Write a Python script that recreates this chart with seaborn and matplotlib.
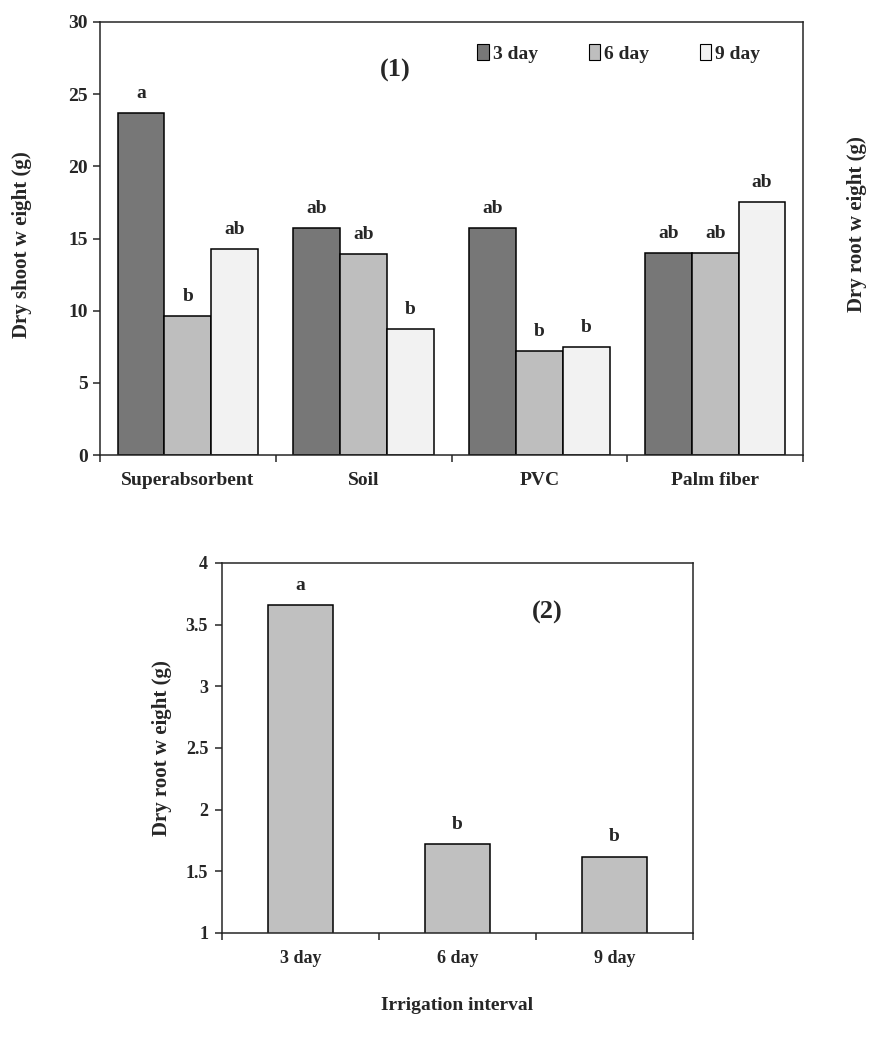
import pandas as pd
import numpy as np
import matplotlib
matplotlib.use('Agg')
import matplotlib.pyplot as plt
from matplotlib.patches import Patch
from matplotlib.ticker import FormatStrFormatter, FixedLocator
import seaborn as sns

# === Data ===
media = ['Superabsorbent', 'Soil', 'PVC', 'Palm fiber']
intervals = ['3 day', '6 day', '9 day']
shoot_3day = [23.7, 15.7, 15.7, 14.0]
shoot_6day = [9.6, 13.9, 7.2, 14.0]
shoot_9day = [14.3, 8.7, 7.5, 17.5]
letters_3day = ['a', 'ab', 'ab', 'ab']
letters_6day = ['b', 'ab', 'b', 'ab']
letters_9day = ['ab', 'b', 'b', 'ab']
root_weight = [3.66, 1.72, 1.62]
root_letters = ['a', 'b', 'b']

shoot_df = pd.DataFrame({
    'medium': media * 3,
    'interval': ['3 day'] * 4 + ['6 day'] * 4 + ['9 day'] * 4,
    'weight': shoot_3day + shoot_6day + shoot_9day,
})
root_df = pd.DataFrame({'interval': intervals, 'weight': root_weight})

bar_colors = ['#777777', '#bebebe', '#f2f2f2']

# === Style ===
sns.set_style('ticks')
plt.rcParams['font.family'] = ['Liberation Serif', 'DejaVu Serif']
plt.rcParams['font.weight'] = 'bold'
plt.rcParams['axes.linewidth'] = 1.1

fig = plt.figure(figsize=(8.69, 10.37), dpi=100)
ax1 = fig.add_axes([0.1151, 0.5612, 0.809, 0.4176])
ax2 = fig.add_axes([0.2555, 0.1003, 0.542, 0.3568])

# === Plot 1: Dry shoot weight ===
sns.barplot(data=shoot_df, x='medium', y='weight', hue='interval',
            palette=bar_colors, edgecolor='black', linewidth=1.1,
            width=0.8, errorbar=None, legend=False, ax=ax1)
for cont, labs in zip(ax1.containers, [letters_3day, letters_6day, letters_9day]):
    ax1.bar_label(cont, labels=labs, padding=8, fontsize=14, fontweight='bold')

ax1.set_xlim(-0.5, 3.5)
ax1.set_ylim(0, 30)
ax1.set_yticks(range(0, 31, 5))
ax1.set_xlabel('')
ax1.set_ylabel('')
ax1.tick_params(axis='y', direction='out', length=5, width=1.1, labelsize=14, pad=4)
ax1.tick_params(axis='x', which='major', length=0, labelsize=14, pad=12)
ax1.xaxis.set_minor_locator(FixedLocator(np.arange(-0.5, 4, 1)))
ax1.tick_params(axis='x', which='minor', direction='out', length=5, width=1.1)
for s in ax1.spines.values():
    s.set_visible(True)
    s.set_linewidth(1.1)

handles = [Patch(facecolor=c, edgecolor='black', linewidth=0.8, label=l)
           for c, l in zip(bar_colors, intervals)]
ax1.legend(handles=handles, loc='center', bbox_to_anchor=(0.738, 0.928), ncol=3,
           frameon=False, handlelength=0.6, handleheight=0.9, handletextpad=0.2,
           columnspacing=2.6, prop={'size': 14, 'weight': 'bold'})
ax1.text(0.42, 0.889, '(1)', transform=ax1.transAxes, ha='center', va='center',
         fontsize=19, fontweight='bold')

fig.text(22 / 869, 1 - 245 / 1037, 'Dry shoot w eight (g)', rotation=90,
         ha='center', va='center', fontsize=15, fontweight='bold')
fig.text(857 / 869, 1 - 224 / 1037, 'Dry root w eight (g)', rotation=90,
         ha='center', va='center', fontsize=15, fontweight='bold')

# === Plot 2: Dry root weight ===
sns.barplot(data=root_df, x='interval', y='weight', color='#c0c0c0',
            edgecolor='black', linewidth=1.1, width=0.41, errorbar=None, ax=ax2)
ax2.bar_label(ax2.containers[0], labels=root_letters, padding=8,
              fontsize=14, fontweight='bold')
ax2.set_xlim(-0.5, 2.5)
ax2.set_ylim(1, 4)
ax2.set_yticks(np.arange(1, 4.01, 0.5))
ax2.yaxis.set_major_formatter(FormatStrFormatter('%g'))
ax2.set_xlabel('Irrigation interval', fontsize=14, fontweight='bold', labelpad=22)
ax2.set_ylabel('')
ax2.tick_params(axis='y', direction='out', length=5, width=1.1, labelsize=13, pad=5)
ax2.tick_params(axis='x', which='major', length=0, labelsize=13, pad=12)
ax2.xaxis.set_minor_locator(FixedLocator(np.arange(-0.5, 3, 1)))
ax2.tick_params(axis='x', which='minor', direction='out', length=5, width=1.1)
for s in ax2.spines.values():
    s.set_visible(True)
    s.set_linewidth(1.1)
ax2.text(0.69, 0.865, '(2)', transform=ax2.transAxes, ha='center', va='center',
         fontsize=19, fontweight='bold')
fig.text(162 / 869, 1 - 748 / 1037, 'Dry root w eight (g)', rotation=90,
         ha='center', va='center', fontsize=15, fontweight='bold')

fig.savefig('out.png', dpi=100)
